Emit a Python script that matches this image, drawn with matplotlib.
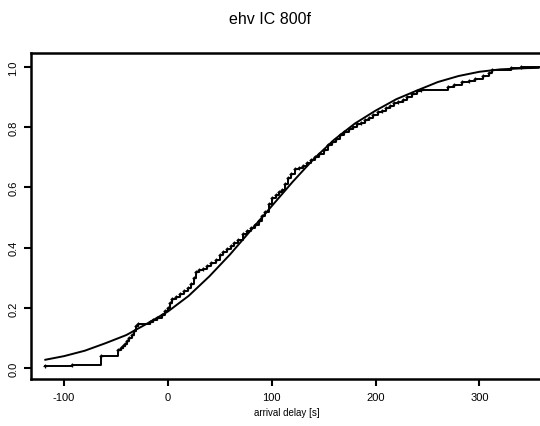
import matplotlib
matplotlib.use("Agg")
import matplotlib.pyplot as plt

plt.rcParams['font.family'] = ['Liberation Sans', 'DejaVu Sans']

# fitted distribution (smooth curve)
fit_x = [-118, -100, -80, -60, -40, -20, 0, 20, 40, 60, 80, 100, 120, 140,
         160, 180, 200, 220, 240, 260, 280, 300, 320, 345, 357]
fit_y = [0.028, 0.04, 0.058, 0.083, 0.11, 0.148, 0.188, 0.24, 0.305, 0.378,
         0.458, 0.538, 0.618, 0.693, 0.758, 0.812, 0.855, 0.893, 0.922, 0.95,
         0.97, 0.984, 0.992, 0.996, 0.997]

# empirical cdf knots (delay, cumulative fraction)
ecdf_x = [-118, -92, -64.5, -48, -45, -43, -41, -39, -37, -35, -33, -31, -29,
          -17, -14, -10, -6, -3, 0, 2, 4, 8, 12, 16, 19, 22, 25, 27, 30, 34,
          38, 42, 46, 50, 53, 57, 61, 64, 68, 72, 76, 80, 84, 88, 91, 94, 97,
          100, 104, 107, 110, 113, 116, 119, 122, 126, 130, 134, 138, 142,
          146, 150, 154, 158, 162, 166, 170, 174, 178, 182, 186, 190, 194,
          198, 202, 206, 210, 214, 218, 222, 226, 230, 235, 240, 244, 270,
          276, 283, 290, 296, 303, 309, 312, 330, 340]
ecdf_y = [0.007, 0.012, 0.04, 0.062, 0.068, 0.074, 0.08, 0.09, 0.10, 0.11,
          0.125, 0.14, 0.148, 0.153, 0.16, 0.168, 0.178, 0.19, 0.20, 0.215,
          0.23, 0.235, 0.245, 0.255, 0.265, 0.28, 0.30, 0.32, 0.325, 0.33,
          0.34, 0.35, 0.36, 0.375, 0.385, 0.395, 0.405, 0.415, 0.425, 0.445,
          0.455, 0.465, 0.475, 0.49, 0.505, 0.52, 0.545, 0.565, 0.575, 0.585,
          0.59, 0.61, 0.63, 0.645, 0.66, 0.665, 0.67, 0.68, 0.69, 0.70, 0.71,
          0.725, 0.74, 0.75, 0.76, 0.775, 0.785, 0.795, 0.80, 0.81, 0.815,
          0.825, 0.83, 0.84, 0.85, 0.855, 0.865, 0.87, 0.88, 0.885, 0.89,
          0.90, 0.91, 0.92, 0.925, 0.935, 0.94, 0.95, 0.955, 0.96, 0.97,
          0.98, 0.99, 0.995, 1.0]
ecdf_end = 357

xticks = [-100, 0, 100, 200, 300]
yticks = [0.0, 0.2, 0.4, 0.6, 0.8, 1.0]

fig = plt.figure(figsize=(5.4, 4.27), dpi=100)
ax = fig.add_axes([0.057, 0.110, 0.95, 0.764])

ax.plot(fit_x, fit_y, color='black', lw=1.4)
ax.plot(ecdf_x + [ecdf_end], ecdf_y + [ecdf_y[-1]], color='black', lw=1.4,
        drawstyle='steps-post')
ax.plot(ecdf_x, ecdf_y, ls='none', marker='+', ms=3, mew=0.9, color='black')

ax.set_xlim(-132, 362)
ax.set_ylim(-0.036, 1.047)
ax.set_xticks(xticks)
ax.set_xticklabels([str(v) for v in xticks], fontsize=8)
ax.set_yticks(yticks)
ax.set_yticklabels(['%.1f' % v for v in yticks], fontsize=8, rotation=90,
                   va='center')
ax.tick_params(width=1.5, length=5, direction='out', pad=4)

for s in ['left', 'bottom', 'top']:
    ax.spines[s].set_linewidth(1.8)
ax.spines['right'].set_visible(False)

ax.set_xlabel('arrival delay [s]', fontsize=7, labelpad=4)
fig.text(0.5, 0.955, 'ehv IC 800f', ha='center', va='center', fontsize=11.5)

fig.savefig('out.png', dpi=100)
